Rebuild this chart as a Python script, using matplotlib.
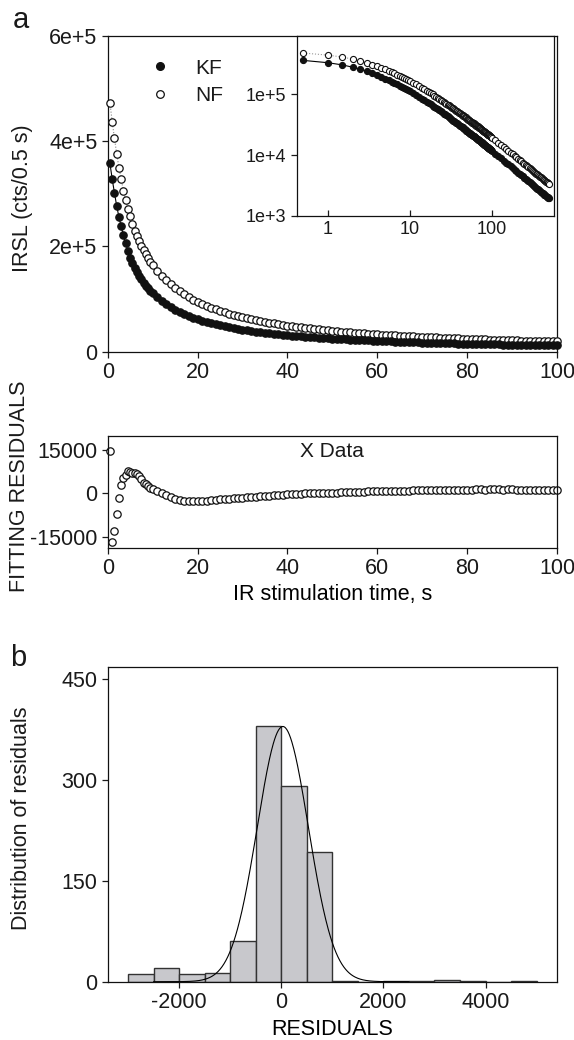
"""IRSL decay curves (KF / NF), fitting residuals and residual histogram."""

import matplotlib

matplotlib.use("Agg")
import matplotlib.pyplot as plt
import numpy as np
from matplotlib.lines import Line2D
from matplotlib.ticker import FixedLocator, FuncFormatter, NullLocator

plt.rcParams["font.family"] = ["Liberation Sans", "DejaVu Sans"]
plt.rcParams["axes.unicode_minus"] = False
plt.rcParams["text.color"] = "#1a1a1a"
plt.rcParams["xtick.color"] = "#1a1a1a"
plt.rcParams["ytick.color"] = "#1a1a1a"

# stimulation times (s): 0.5 s steps to 9.5 s, 1 s steps to 100 s, 10 s steps to 500 s
TIME = np.concatenate([np.arange(0.5, 10, 0.5), np.arange(10, 101, 1), np.arange(110, 501, 10)])
N_MAIN = 110  # samples up to 100 s

# IRSL counts in thousands of cts/0.5 s
KF_EARLY = [358, 328, 302, 277, 256, 238, 221, 206, 192, 179,
            168, 159.5, 151.5, 144.2, 137.5, 131.4, 125.8, 120.6, 115.8]
KF_MID = [111.3, 103.3, 96.3, 90.2, 84.7, 79.8, 75.4, 71.5, 67.9, 64.6,
          61.7, 59.0, 56.4, 54.1, 52.0, 50.0, 48.1, 46.4, 44.8, 43.3,
          41.8, 40.5, 39.3, 38.0, 36.9, 35.9, 34.9, 33.9, 33.0, 32.1,
          31.3, 30.5, 29.7, 29.0, 28.4, 27.7, 27.1, 26.5, 25.9, 25.3,
          24.8, 24.3, 23.8, 23.4, 22.9, 22.5, 22.1, 21.7, 21.3, 20.9,
          20.5, 20.2, 19.8, 19.5, 19.1, 18.8, 18.5, 18.2, 17.9, 17.7,
          17.4, 17.1, 16.9, 16.6, 16.4, 16.1, 15.9, 15.7, 15.5, 15.3,
          15.1, 14.9, 14.7, 14.5, 14.3, 14.1, 13.9, 13.7, 13.6, 13.4,
          13.2, 13.1, 12.9, 12.8, 12.6, 12.5, 12.4, 12.2, 12.1, 11.9,
          11.8]
KF_TAIL = [10.6, 9.65, 8.84, 8.14, 7.54, 7.02, 6.56, 6.15, 5.79, 5.47,
           5.17, 4.91, 4.67, 4.45, 4.25, 4.07, 3.90, 3.74, 3.59, 3.46,
           3.33, 3.22, 3.10, 3.00, 2.90, 2.81, 2.73, 2.64, 2.57, 2.50,
           2.43, 2.36, 2.30, 2.24, 2.18, 2.13, 2.08, 2.03, 1.98, 1.94]

NF_EARLY = [473, 437, 406, 376, 350, 328, 306, 288, 271, 257,
            243, 230.0, 219.4, 209.7, 200.7, 192.5, 184.9, 177.8, 171.2]
NF_MID = [165.1, 154.0, 144.2, 135.6, 127.8, 120.9, 114.7, 109.0, 103.8, 99.1,
          94.8, 90.8, 87.1, 83.7, 80.6, 77.6, 74.9, 72.3, 69.9, 67.6,
          65.5, 63.6, 61.8, 60.1, 58.3, 56.6, 55.1, 53.7, 52.3, 51.0,
          49.7, 48.5, 47.4, 46.3, 45.2, 44.2, 43.3, 42.4, 41.5, 40.6,
          39.8, 39.0, 38.3, 37.5, 36.8, 36.1, 35.5, 34.9, 34.2, 33.6,
          33.0, 32.5, 32.0, 31.4, 30.9, 30.4, 30.0, 29.5, 29.1, 28.6,
          28.2, 27.8, 27.4, 27.0, 26.6, 26.2, 25.9, 25.5, 25.2, 24.8,
          24.5, 24.2, 23.9, 23.6, 23.3, 23.0, 22.7, 22.5, 22.2, 21.9,
          21.7, 21.4, 21.2, 21.0, 20.7, 20.5, 20.3, 20.1, 19.8, 19.6,
          19.4]
NF_TAIL = [17.5, 15.96, 14.65, 13.52, 12.56, 11.71, 10.97, 10.31, 9.72, 9.19,
           8.72, 8.28, 7.89, 7.54, 7.21, 6.90, 6.63, 6.37, 6.13, 5.90,
           5.69, 5.49, 5.31, 5.14, 4.98, 4.83, 4.68, 4.55, 4.42, 4.30,
           4.18, 4.07, 3.96, 3.86, 3.77, 3.68, 3.59, 3.51, 3.43, 3.35]

# fitting residuals (cts/0.5 s), 0.5 - 100 s
RESID_EARLY = [14700, -17000, -13000, -7000, -1500, 3000, 5300, 6300, 7700, 7600,
               7200, 7000, 6700, 6000, 4900, 3800, 3200, 2600, 2000]
RESID_MID = [1600, 800, 0, -700, -1400, -1900, -2300, -2500, -2600, -2700,
             -2700, -2500, -2700, -2300, -2200, -2100, -1900, -1900, -1700, -1600,
             -1500, -1400, -1300, -1150, -1050, -950, -800, -700, -600, -450,
             -350, -200, -150, -50, 0, 0, 50, 100, 150, 200,
             250, 300, 350, 400, 500, 500, 600, 650, 700, 700,
             750, 800, 850, 850, 950, 950, 1000, 1000, 1050, 1100,
             1100, 1150, 1150, 1200, 1250, 1250, 1250, 1300, 1300, 1350,
             1350, 1350, 1400, 1400, 1350, 1400, 1400, 1400, 1350, 1400,
             1400, 1350, 1350, 1300, 1300, 1300, 1250, 1250, 1200, 1200,
             1150]

# residual histogram, 500-wide bins from -3000 to 5000
BIN_EDGES = np.arange(-3000, 5001, 500)
HIST_COUNTS = [11, 20, 11, 13, 60, 381, 292, 193, 1, 0, 1, 1, 2, 1, 0, 1]
NORMAL_MEAN, NORMAL_SD, NORMAL_PEAK = 30, 500, 380

kf = np.array(KF_EARLY + KF_MID + KF_TAIL) * 1e3
nf = np.array(NF_EARLY + NF_MID + NF_TAIL) * 1e3
resid = np.array(RESID_EARLY + RESID_MID)
t_main = TIME[:N_MAIN]

W, H = 574, 1040
MS = 5.3
fig = plt.figure(figsize=(W / 100, H / 100), dpi=100)


def box(left, top, right, bottom):
    return [left / W, 1 - bottom / H, (right - left) / W, (bottom - top) / H]


def style(axis, size=15.5):
    for spine in axis.spines.values():
        spine.set_linewidth(0.9)
        spine.set_color("#111111")
    axis.tick_params(direction="out", length=4, width=0.9, labelsize=size, top=False, right=False)


# ---- panel a: decay curves
ax = fig.add_axes(box(107.7, 36, 557, 351.7))
style(ax)
ax.plot(t_main, nf[:N_MAIN], ls=":", color="#888888", lw=0.8, zorder=2)
ax.plot(t_main, nf[:N_MAIN], "o", ms=MS, mfc="white", mec="#111111", mew=0.9, zorder=3, clip_on=False)
ax.plot(t_main, kf[:N_MAIN], "-", color="black", lw=0.8, zorder=4)
ax.plot(t_main, kf[:N_MAIN], "o", ms=MS, mfc="#111111", mec="#111111", mew=0.9, zorder=5, clip_on=False)
ax.set_xlim(0, 100)
ax.set_ylim(0, 6e5)
ax.xaxis.set_major_locator(FixedLocator([0, 20, 40, 60, 80, 100]))
ax.yaxis.set_major_locator(FixedLocator([0, 2e5, 4e5, 6e5]))
ax.yaxis.set_major_formatter(FuncFormatter(lambda v, _: "0" if v == 0 else f"{v / 1e5:.0f}e+5"))
handles = [
    Line2D([], [], marker="o", ls="none", ms=5.5, mfc="#111111", mec="#111111"),
    Line2D([], [], marker="o", ls="none", ms=5.5, mfc="white", mec="#111111", mew=0.9),
]
ax.legend(handles, ["KF", "NF"], loc="upper left", bbox_to_anchor=(0.075, 0.955), frameon=False,
          fontsize=15, handlelength=1.0, handletextpad=1.2, labelspacing=0.4, borderaxespad=0)
fig.text(23 / W, 1 - 198 / H, "IRSL (cts/0.5 s)", rotation=90, ha="center", va="center", fontsize=15.5)

# inset: log-log
axi = fig.add_axes(box(297, 36, 554, 216))
style(axi, 13)
axi.plot(TIME, nf, ls=":", color="#999999", lw=0.8, zorder=2)
axi.plot(TIME, nf, "o", ms=4.4, mfc="white", mec="#111111", mew=0.8, zorder=3)
axi.plot(TIME, kf, "-", color="black", lw=0.8, zorder=4)
axi.plot(TIME, kf, "o", ms=4.4, mfc="#111111", mec="#111111", mew=0.8, zorder=5)
axi.set_xscale("log")
axi.set_yscale("log")
axi.set_xlim(0.42, 575)
axi.set_ylim(1e3, 9e5)
axi.xaxis.set_major_locator(FixedLocator([1, 10, 100]))
axi.xaxis.set_minor_locator(NullLocator())
axi.yaxis.set_major_locator(FixedLocator([1e3, 1e4, 1e5]))
axi.yaxis.set_minor_locator(NullLocator())
axi.xaxis.set_major_formatter(FuncFormatter(lambda v, _: f"{v:g}"))
axi.yaxis.set_major_formatter(FuncFormatter(lambda v, _: f"1e+{int(round(np.log10(v)))}"))
axi.tick_params(axis="x", direction="in")

# ---- fitting residuals
axr = fig.add_axes(box(107.7, 436, 557, 548))
style(axr)
axr.plot(t_main, resid, "o", ms=MS, mfc="white", mec="#111111", mew=0.9, clip_on=False)
axr.set_xlim(0, 100)
axr.set_ylim(-19000, 20000)
axr.xaxis.set_major_locator(FixedLocator([0, 20, 40, 60, 80, 100]))
axr.yaxis.set_major_locator(FixedLocator([-15000, 0, 15000]))
axr.text(0.5, 0.86, "X Data", transform=axr.transAxes, ha="center", va="center", fontsize=15)
axr.set_xlabel("IR stimulation time, s", fontsize=15.5, labelpad=3)
fig.text(20 / W, 1 - 486 / H, "FITTING RESIDUALS", rotation=90, ha="center", va="center", fontsize=15.5)

# ---- panel b: residual histogram
axh = fig.add_axes(box(107.7, 666.7, 557, 981.7))
style(axh)
axh.bar(BIN_EDGES[:-1], HIST_COUNTS, width=500, align="edge", color="#c8c8cc", edgecolor="#333333", linewidth=1)
xs = np.linspace(-2500, 2500, 400)
axh.plot(xs, NORMAL_PEAK * np.exp(-0.5 * ((xs - NORMAL_MEAN) / NORMAL_SD) ** 2), color="black", lw=0.8)
axh.set_xlim(-3400, 5400)
axh.set_ylim(0, 469)
axh.xaxis.set_major_locator(FixedLocator([-2000, 0, 2000, 4000]))
axh.yaxis.set_major_locator(FixedLocator([0, 150, 300, 450]))
axh.set_xlabel("RESIDUALS", fontsize=15.5, labelpad=4)
fig.text(22 / W, 1 - 818 / H, "Distribution of residuals", rotation=90, ha="center", va="center", fontsize=15.5)

fig.text(21 / W, 1 - 28 / H, "a", fontsize=21, ha="center", va="baseline")
fig.text(18 / W, 1 - 666 / H, "b", fontsize=21, ha="center", va="baseline")

fig.savefig("out.png", dpi=100, facecolor="white")
